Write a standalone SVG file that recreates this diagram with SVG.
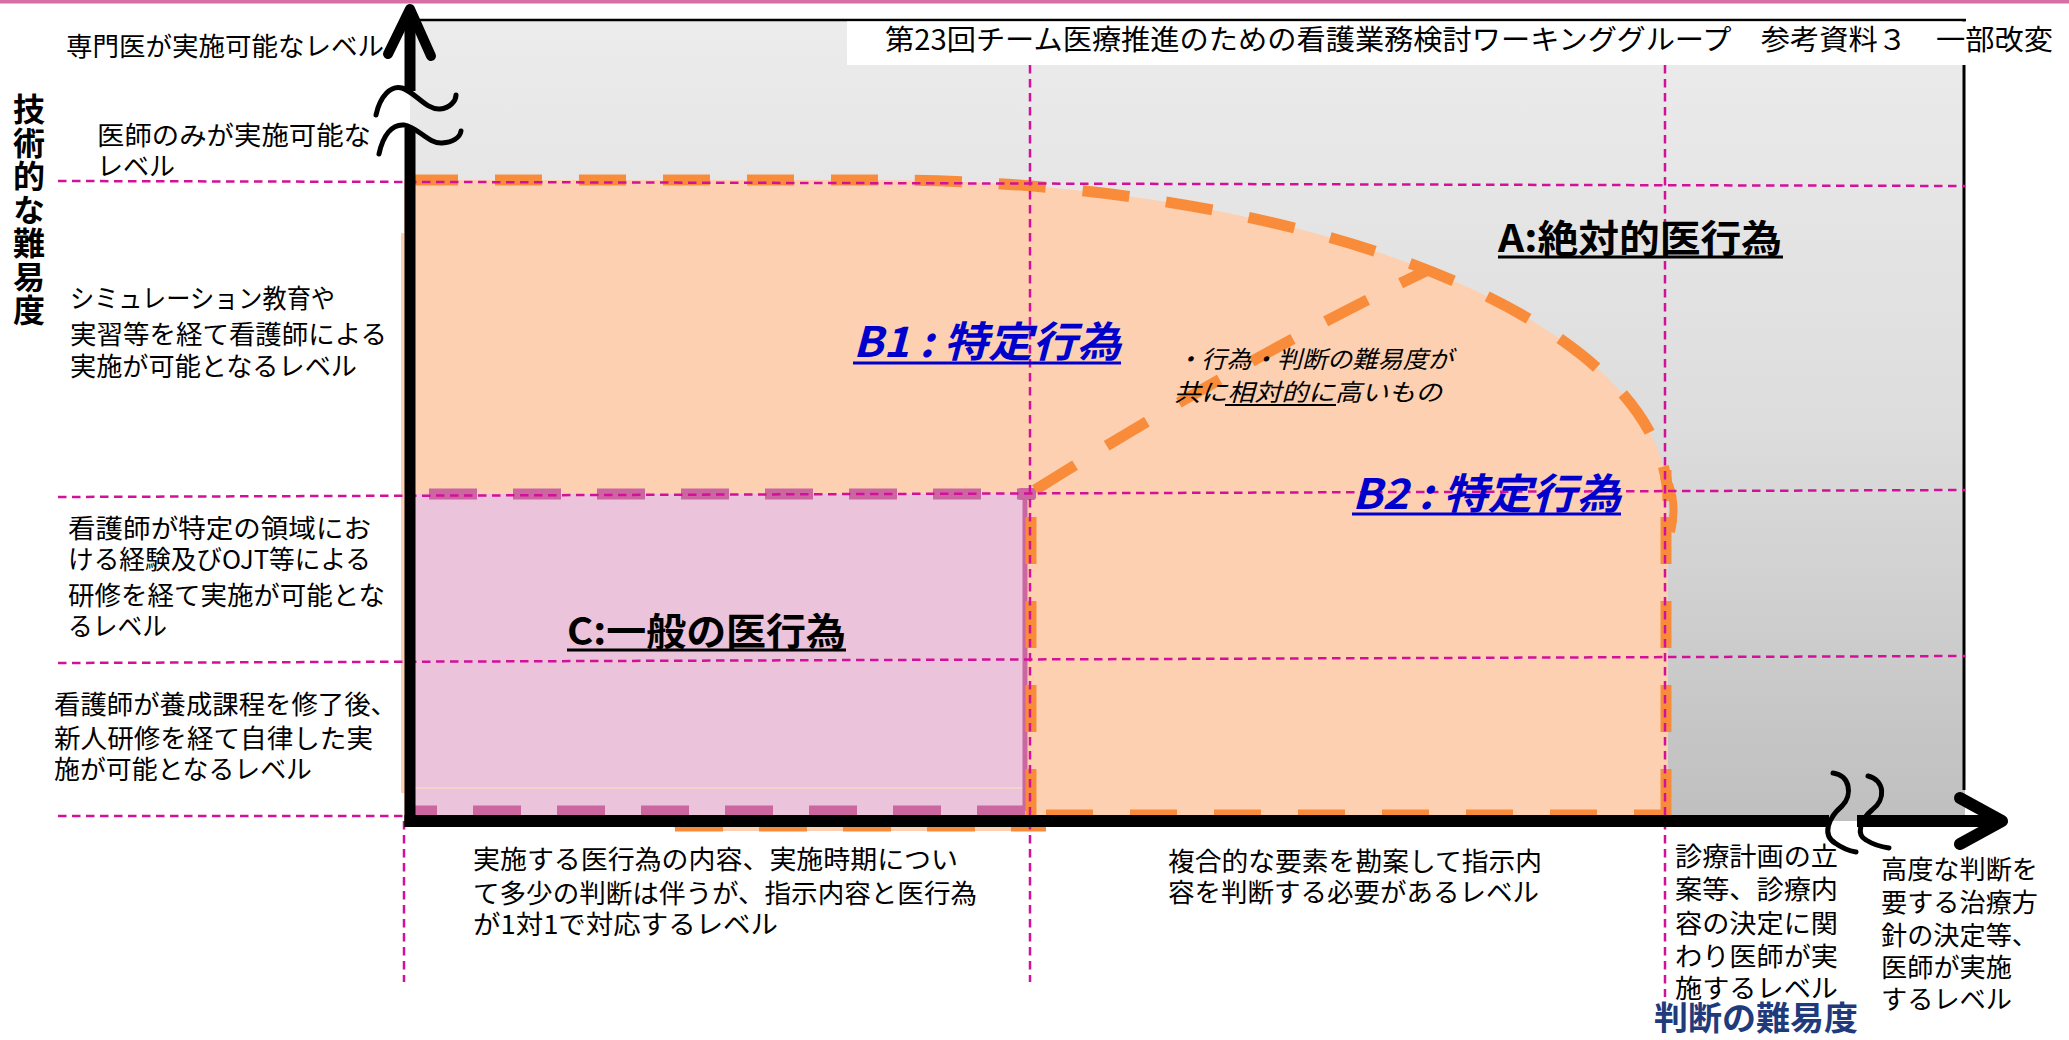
<svg xmlns="http://www.w3.org/2000/svg" width="2069" height="1040" viewBox="0 0 2069 1040">
<defs>
  <linearGradient id="grayGrad" x1="0" y1="0" x2="0" y2="1">
    <stop offset="0" stop-color="#ECECEC"/>
    <stop offset="0.5" stop-color="#DDDDDD"/>
    <stop offset="1" stop-color="#BFBFBF"/>
  </linearGradient>
  <style>
    .t{font-family:'Noto Sans CJK JP','Noto Sans',sans-serif;font-size:26px;fill:#000}
    .b{font-family:'Noto Sans CJK JP','Noto Sans',sans-serif;font-weight:bold}
    .g{fill:none;stroke:#D2109A;stroke-width:2.5;stroke-dasharray:8.5 5.5}
    .od{fill:none;stroke:#F98C3A;stroke-width:11;stroke-dasharray:47 37}
    .md{fill:none;stroke:#CC66A0;stroke-width:11;stroke-dasharray:48 36}
    .ax{fill:none;stroke:#000}
    .brk{fill:none;stroke:#000;stroke-width:5;stroke-linecap:round}
    .ul{stroke-width:3}
  </style>
</defs>

<rect width="2069" height="1040" fill="#FFFFFF"/>
<rect x="0" y="0" width="2069" height="3.5" fill="#D670A4"/>

<g id="chart-area">
  <rect x="410" y="20" width="1555" height="801" fill="url(#grayGrad)"/>
  <line x1="410" y1="20" x2="1966" y2="20" stroke="#000" stroke-width="2.5"/>
  <line x1="1964" y1="20" x2="1964" y2="790" stroke="#000" stroke-width="3"/>
</g>

<g id="region-B">
  <path d="M404,180 H880 A788,321 0 0 1 1668,501 L1668,821 L404,821 Z" fill="#FCD0B0"/>
  <rect x="401" y="233" width="5" height="560" fill="#FCD0B0"/>
  <path d="M668,821 Q672,831 690,831 H1036 Q1046,831 1048,821 Z" fill="#FCD0B0"/>
  <path d="M675,829 H1046" fill="none" stroke="#F98C3A" stroke-width="5" stroke-dasharray="48 36"/>
</g>

<g id="region-C">
  <rect x="410" y="494" width="617" height="321" fill="#EBC3DA"/>
  <line x1="410" y1="788" x2="1027" y2="788" stroke="#F8D9C8" stroke-width="1.5"/>
  <line x1="1025" y1="494" x2="1025" y2="811" stroke="#CC66A0" stroke-width="5"/>
  <path class="md" d="M429,494 H1030"/>
  <path class="md" d="M410,811 H1027" stroke-dashoffset="21"/>
  <rect x="1018" y="488" width="18" height="12" rx="3" fill="#CC66A0"/>
</g>

<g id="region-B-outline">
  <path class="od" d="M411,180 H880 A788,321 0 0 1 1668,501"/>
  <path d="M1669,484 Q1677,506 1671,532" fill="none" stroke="#F98C3A" stroke-width="8"/>
  <path class="od" d="M1666,470 V815" stroke-dashoffset="37"/>
  <path class="od" d="M1046,815 H1666"/>
  <path class="od" d="M1031,494 V815" stroke-dashoffset="61"/>
  <path class="od" d="M1035,490 Q1250,355 1428,270"/>
</g>

<g id="title">
  <rect x="847" y="21.5" width="1222" height="43.5" fill="#FFFFFF"/>
  <text class="t" x="885" y="50" textLength="1168" lengthAdjust="spacingAndGlyphs" style="font-size:28px">第23回チーム医療推進のための看護業務検討ワーキンググループ　参考資料３　一部改変</text>
</g>

<g id="guides" class="g">
  <line x1="58" y1="181" x2="1965" y2="186"/>
  <line x1="58" y1="497" x2="1965" y2="490"/>
  <line x1="58" y1="663" x2="1965" y2="656"/>
  <line x1="58" y1="816" x2="404" y2="816"/>
  <line x1="404" y1="821" x2="404" y2="982"/>
  <line x1="1030" y1="65" x2="1030" y2="982"/>
  <line x1="1665" y1="65" x2="1665" y2="997"/>
</g>

<g id="axes">
  <line class="ax" x1="410" y1="10" x2="410" y2="91" stroke-width="11"/>
  <line class="ax" x1="410" y1="128" x2="410" y2="827" stroke-width="11"/>
  <line class="ax" x1="404.5" y1="821" x2="1829" y2="821" stroke-width="12"/>
  <line class="ax" x1="1857" y1="821" x2="2002" y2="821" stroke-width="12"/>
  <polyline class="ax" points="388,54 410,9 431,56" stroke-width="10" stroke-linecap="round" stroke-linejoin="round"/>
  <polyline class="ax" points="1960,798 2002,821 1960,844" stroke-width="12" stroke-linecap="round" stroke-linejoin="round"/>
  <path class="brk" d="M376,115 C380,96 391,85 402,88 C415,92 426,110 440,109 C450,108 456,101 456,95"/>
  <path class="brk" d="M379,154 C383,135 392,124 404,125 C418,127 428,144 442,143 C452,142 460,138 461,131"/>
  <path class="brk" d="M1833,773 C1850,775 1853,795 1842,806 C1828,818 1822,835 1835,843 C1842,848 1850,851 1856,852"/>
  <path class="brk" d="M1868,776 C1885,780 1886,800 1872,810 C1860,820 1856,835 1866,840 C1874,845 1882,847 1889,848"/>
</g>

<g id="y-axis-title">
  <text class="b" x="29" y="93" fill="#000" letter-spacing="1.5" style="font-size:32px;writing-mode:vertical-rl">技術的な難易度</text>
</g>

<g id="y-levels">
  <text class="t" x="66" y="56" textLength="318" lengthAdjust="spacingAndGlyphs">専門医が実施可能なレベル</text>
  <text class="t" x="97" y="145" textLength="274" lengthAdjust="spacingAndGlyphs">医師のみが実施可能な</text>
  <text class="t" x="97" y="176">レベル</text>
  <text class="t" x="70" y="308" textLength="265" lengthAdjust="spacingAndGlyphs">シミュレーション教育や</text>
  <text class="t" x="70" y="344" textLength="317" lengthAdjust="spacingAndGlyphs">実習等を経て看護師による</text>
  <text class="t" x="70" y="376" textLength="287" lengthAdjust="spacingAndGlyphs">実施が可能となるレベル</text>
  <text class="t" x="68" y="538" textLength="303" lengthAdjust="spacingAndGlyphs">看護師が特定の領域にお</text>
  <text class="t" x="68" y="569" textLength="303" lengthAdjust="spacingAndGlyphs">ける経験及びOJT等による</text>
  <text class="t" x="68" y="605" textLength="317" lengthAdjust="spacingAndGlyphs">研修を経て実施が可能とな</text>
  <text class="t" x="68" y="636" textLength="99" lengthAdjust="spacingAndGlyphs">るレベル</text>
  <text class="t" x="54" y="714" textLength="343" lengthAdjust="spacingAndGlyphs">看護師が養成課程を修了後、</text>
  <text class="t" x="54" y="748" textLength="319" lengthAdjust="spacingAndGlyphs">新人研修を経て自律した実</text>
  <text class="t" x="54" y="779" textLength="258" lengthAdjust="spacingAndGlyphs">施が可能となるレベル</text>
</g>

<g id="x-levels">
  <text class="t" x="473" y="869" textLength="485" lengthAdjust="spacingAndGlyphs">実施する医行為の内容、実施時期につい</text>
  <text class="t" x="473" y="903" textLength="504" lengthAdjust="spacingAndGlyphs">て多少の判断は伴うが、指示内容と医行為</text>
  <text class="t" x="473" y="934" textLength="305" lengthAdjust="spacingAndGlyphs">が1対1で対応するレベル</text>
  <text class="t" x="1168" y="871" textLength="374" lengthAdjust="spacingAndGlyphs">複合的な要素を勘案して指示内</text>
  <text class="t" x="1168" y="902" textLength="371" lengthAdjust="spacingAndGlyphs">容を判断する必要があるレベル</text>
  <text class="t" x="1675" y="866" textLength="163" lengthAdjust="spacingAndGlyphs">診療計画の立</text>
  <text class="t" x="1675" y="899" textLength="163" lengthAdjust="spacingAndGlyphs">案等、診療内</text>
  <text class="t" x="1675" y="933" textLength="163" lengthAdjust="spacingAndGlyphs">容の決定に関</text>
  <text class="t" x="1675" y="966" textLength="163" lengthAdjust="spacingAndGlyphs">わり医師が実</text>
  <text class="t" x="1675" y="998" textLength="163" lengthAdjust="spacingAndGlyphs">施するレベル</text>
  <text class="t" x="1881" y="879" textLength="157" lengthAdjust="spacingAndGlyphs">高度な判断を</text>
  <text class="t" x="1881" y="912" textLength="157" lengthAdjust="spacingAndGlyphs">要する治療方</text>
  <text class="t" x="1881" y="945" textLength="157" lengthAdjust="spacingAndGlyphs">針の決定等、</text>
  <text class="t" x="1881" y="977" textLength="131" lengthAdjust="spacingAndGlyphs">医師が実施</text>
  <text class="t" x="1881" y="1009" textLength="131" lengthAdjust="spacingAndGlyphs">するレベル</text>
  <text class="b" x="1654" y="1030" fill="#1F3B7C" style="font-size:33px" textLength="204" lengthAdjust="spacingAndGlyphs">判断の難易度</text>
</g>

<g id="label-A">
  <text class="b" x="1498" y="252" fill="#000" style="font-size:38px" textLength="284" lengthAdjust="spacingAndGlyphs">A:絶対的医行為</text>
  <line class="ul" x1="1498" y1="257" x2="1783" y2="257" stroke="#000"/>
</g>

<g id="label-B1">
  <text class="b" x="853" y="357" fill="#0000CC" style="font-size:42px;font-style:italic" textLength="268" lengthAdjust="spacingAndGlyphs">B1 : 特定行為</text>
  <line class="ul" x1="853" y1="363" x2="1121" y2="363" stroke="#0000CC"/>
</g>

<g id="label-B2">
  <text class="b" x="1352" y="509" fill="#0000CC" style="font-size:42px;font-style:italic" textLength="269" lengthAdjust="spacingAndGlyphs">B2 : 特定行為</text>
  <line class="ul" x1="1352" y1="514" x2="1621" y2="514" stroke="#0000CC"/>
</g>

<g id="label-C">
  <text class="b" x="567" y="645" fill="#000" style="font-size:38px" textLength="279" lengthAdjust="spacingAndGlyphs">C:一般の医行為</text>
  <line class="ul" x1="567" y1="650" x2="846" y2="650" stroke="#000"/>
</g>

<g id="note-B1B2">
  <text class="t" x="1176" y="368" style="font-size:24px;font-style:italic" textLength="277" lengthAdjust="spacingAndGlyphs">・行為・判断の難易度が</text>
  <text class="t" x="1174" y="401" style="font-size:24px;font-style:italic" textLength="268" lengthAdjust="spacingAndGlyphs">共に相対的に高いもの</text>
  <line x1="1225" y1="405" x2="1336" y2="405" stroke="#000" stroke-width="2"/>
</g>
</svg>
